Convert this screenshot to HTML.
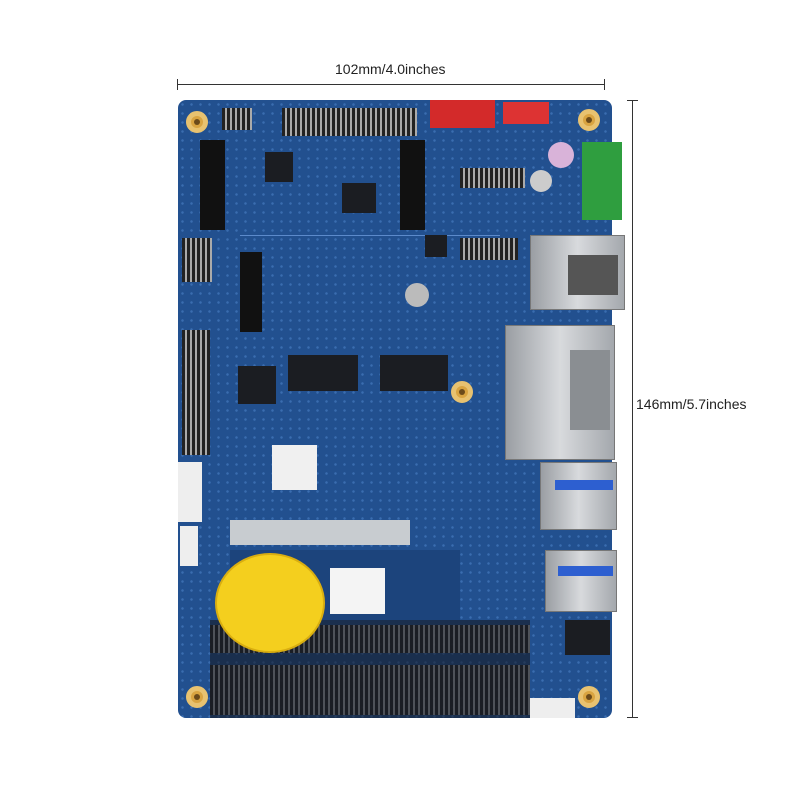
<!DOCTYPE html>
<html><head><style>
body{margin:0;width:800px;height:800px;background:#fff;position:relative;overflow:hidden;font-family:"Liberation Sans",sans-serif}
div{position:absolute;box-sizing:border-box}
.t{font-size:14px;color:#222}
.hole{width:22px;height:22px;border-radius:50%;background:#d9a441;border:5px solid #e8c270}
.hole::after{content:"";position:absolute;left:3px;top:3px;width:6px;height:6px;border-radius:50%;background:#6b4a1a}
.chip{background:#1b1d22}
.silver{background:linear-gradient(90deg,#9a9ea3,#d8dadd,#a4a8ad);border:1px solid #777}
.pin{background:repeating-linear-gradient(90deg,#222 0 3px,#aaa 3px 5px)}
</style></head><body>
<div style="left:177px;top:84px;width:428px;height:1px;background:#333"></div>
<div style="left:177px;top:79px;width:1px;height:11px;background:#333"></div>
<div style="left:604px;top:79px;width:1px;height:11px;background:#333"></div>
<div class="t" style="left:335px;top:61px">102mm/4.0inches</div>
<div style="left:632px;top:100px;width:1px;height:618px;background:#333"></div>
<div style="left:627px;top:100px;width:11px;height:1px;background:#333"></div>
<div style="left:627px;top:717px;width:11px;height:1px;background:#333"></div>
<div class="t" style="left:636px;top:396px">146mm/5.7inches</div>

<div style="left:178px;top:100px;width:434px;height:618px;border-radius:8px;background:#22508f;background-image:radial-gradient(#3a6db0 1px,transparent 1.5px);background-size:9px 9px"></div>
<div style="left:240px;top:235px;width:260px;height:1px;background:#5c8acb"></div>
<div style="left:230px;top:520px;width:180px;height:25px;background:#c8ccd0"></div>
<div style="left:230px;top:550px;width:230px;height:70px;background:#1c447c"></div>
<!-- connectors top -->
<div class="pin" style="left:282px;top:108px;width:135px;height:28px"></div>
<div class="pin" style="left:222px;top:108px;width:30px;height:22px"></div>
<div style="left:430px;top:100px;width:65px;height:28px;background:#d32a2a"></div>
<div style="left:503px;top:102px;width:46px;height:22px;background:#d33"></div>
<div style="left:582px;top:142px;width:40px;height:78px;background:#2f9e3f"></div>
<div style="left:548px;top:142px;width:26px;height:26px;border-radius:50%;background:#d9b3d9"></div>
<div class="pin" style="left:460px;top:168px;width:65px;height:20px"></div>
<div class="pin" style="left:460px;top:238px;width:58px;height:22px"></div>
<!-- m2 slots -->
<div style="left:200px;top:140px;width:25px;height:90px;background:#111"></div>
<div style="left:400px;top:140px;width:25px;height:90px;background:#111"></div>
<div style="left:240px;top:252px;width:22px;height:80px;background:#111"></div>
<div class="pin" style="left:182px;top:238px;width:30px;height:44px"></div>
<div class="pin" style="left:182px;top:330px;width:28px;height:125px"></div>
<div style="left:178px;top:462px;width:24px;height:60px;background:#eee"></div>
<div style="left:180px;top:526px;width:18px;height:40px;background:#eee"></div>
<!-- chips -->
<div class="chip" style="left:265px;top:152px;width:28px;height:30px"></div>
<div class="chip" style="left:342px;top:183px;width:34px;height:30px"></div>
<div class="chip" style="left:238px;top:366px;width:38px;height:38px"></div>
<div class="chip" style="left:288px;top:355px;width:70px;height:36px"></div>
<div class="chip" style="left:380px;top:355px;width:68px;height:36px"></div>
<div class="chip" style="left:425px;top:235px;width:22px;height:22px"></div>
<div style="left:405px;top:283px;width:24px;height:24px;border-radius:50%;background:#bbb"></div>
<div style="left:530px;top:170px;width:22px;height:22px;border-radius:50%;background:#ccc"></div>
<div style="left:272px;top:445px;width:45px;height:45px;background:#f0f0f0"></div>
<!-- right ports -->
<div class="silver" style="left:530px;top:235px;width:95px;height:75px"></div>
<div style="left:568px;top:255px;width:50px;height:40px;background:#555"></div>
<div class="silver" style="left:505px;top:325px;width:110px;height:135px"></div>
<div style="left:570px;top:350px;width:40px;height:80px;background:#8a8e92"></div>
<div class="silver" style="left:540px;top:462px;width:77px;height:68px"></div>
<div style="left:555px;top:480px;width:58px;height:10px;background:#2d5fd0"></div>
<div class="silver" style="left:545px;top:550px;width:72px;height:62px"></div>
<div style="left:558px;top:566px;width:55px;height:10px;background:#2d5fd0"></div>
<div class="chip" style="left:565px;top:620px;width:45px;height:35px"></div>
<div style="left:530px;top:698px;width:45px;height:20px;background:#eee"></div>
<!-- sodimm -->
<div class="pin" style="left:210px;top:625px;width:320px;height:28px;opacity:.85"></div>
<div class="pin" style="left:210px;top:665px;width:320px;height:50px;opacity:.85"></div>
<div style="left:210px;top:620px;width:320px;height:98px;background:rgba(20,20,25,.55)"></div>
<div style="left:330px;top:568px;width:55px;height:46px;background:#f4f4f4"></div>
<div style="left:215px;top:553px;width:110px;height:100px;border-radius:50%;background:#f4cf1e;border:2px solid #d9ae10"></div>
<!-- holes -->
<div class="hole" style="left:186px;top:111px"></div>
<div class="hole" style="left:578px;top:109px"></div>
<div class="hole" style="left:186px;top:686px"></div>
<div class="hole" style="left:578px;top:686px"></div>
<div class="hole" style="left:451px;top:381px"></div>
</body></html>
